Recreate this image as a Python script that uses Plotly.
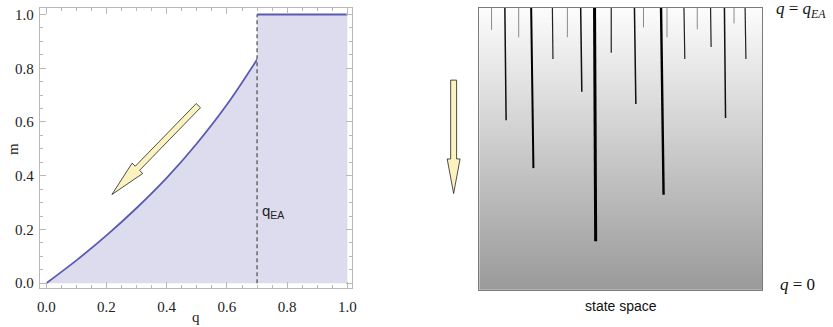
import numpy as np
import plotly.graph_objects as go

W, H = 833, 327

# ---------------- data ----------------
q_curve = [0.0, 0.1, 0.2, 0.3, 0.4, 0.5, 0.6, 0.7]
m_curve = [0.0, 0.085, 0.178, 0.28, 0.392, 0.52, 0.665, 0.833]
q_ea = 0.7
q_plateau = [0.7, 1.0]
m_plateau = [1.0, 1.0]
tick_vals = [0.0, 0.2, 0.4, 0.6, 0.8, 1.0]

# state-space "valleys" (x in box units, y from 0=bottom (q=0) to 1=top (q=q_EA))
valley_top_x = [0.043, 0.090, 0.139, 0.183, 0.258, 0.311, 0.358, 0.407, 0.466, 0.548,
                0.580, 0.642, 0.663, 0.723, 0.770, 0.817, 0.866, 0.900, 0.939]
valley_bottom_x = [0.043, 0.0945, 0.139, 0.191, 0.260, 0.311, 0.362, 0.411, 0.466, 0.553,
                   0.580, 0.651, 0.663, 0.726, 0.770, 0.819, 0.870, 0.900, 0.942]
valley_bottom_y = [0.921, 0.601, 0.895, 0.431, 0.818, 0.895, 0.702, 0.172, 0.840, 0.658,
                   0.930, 0.337, 0.895, 0.818, 0.923, 0.860, 0.609, 0.944, 0.818]

# arrows (start, end) in their panel's data units
arrow_left_tail = [0.505, 0.661]
arrow_left_tip = [0.218, 0.330]
arrow_right_tail = [-0.091, 0.743]
arrow_right_tip = [-0.091, 0.341]

# ---------------- layout geometry ----------------
L_XD = [37 / W, 352 / W]
L_YD = [1 - 291 / H, 1 - 7 / H]
L_XR = [-0.022, 1.014]
L_YR = [-0.0195, 1.0246]
R_XD = [481 / W, 766.7 / W]
R_YD = [1 - 292.3 / H, 1 - 6.7 / H]
R_XR = [0, 1]
R_YR = [0, 1]


def to_px(x, y, xd, yd, xr, yr):
    px = (xd[0] + (x - xr[0]) / (xr[1] - xr[0]) * (xd[1] - xd[0])) * W
    py = (1 - (yd[0] + (y - yr[0]) / (yr[1] - yr[0]) * (yd[1] - yd[0]))) * H
    return px, py


def arrow_path(tail, tip, shaft_hw, head_hw, head_len):
    tx, ty = tail
    hx, hy = tip
    dx, dy = hx - tx, hy - ty
    L = np.hypot(dx, dy)
    ux, uy = dx / L, dy / L
    nx, ny = -uy, ux
    bx, by = hx - ux * head_len, hy - uy * head_len
    pts = [
        (tx + nx * shaft_hw, ty + ny * shaft_hw),
        (bx + nx * shaft_hw, by + ny * shaft_hw),
        (bx + nx * head_hw, by + ny * head_hw),
        (hx, hy),
        (bx - nx * head_hw, by - ny * head_hw),
        (bx - nx * shaft_hw, by - ny * shaft_hw),
        (tx - nx * shaft_hw, ty - ny * shaft_hw),
    ]
    s = "M " + " L ".join(f"{px / W:.5f},{1 - py / H:.5f}" for px, py in pts) + " Z"
    return s


BLUE = "#5a5ab4"
FILL = "#dcdcee"
FRAME = "#b8b8b8"

fig = go.Figure()

# ----- left panel -----
fig.add_trace(go.Scatter(x=q_curve, y=m_curve, mode="lines",
                         line=dict(color=BLUE, width=1.8, shape="spline"),
                         fill="tozeroy", fillcolor=FILL, hoverinfo="skip",
                         xaxis="x", yaxis="y", showlegend=False))
fig.add_trace(go.Scatter(x=q_plateau, y=m_plateau, mode="lines",
                         line=dict(color=BLUE, width=2),
                         fill="tozeroy", fillcolor=FILL, hoverinfo="skip",
                         xaxis="x", yaxis="y", showlegend=False))
fig.add_trace(go.Scatter(x=[q_ea, q_ea], y=[0, 1], mode="lines",
                         line=dict(color="#555555", width=1.3, dash="4px,3px"),
                         hoverinfo="skip", xaxis="x", yaxis="y", showlegend=False))

# ----- right panel -----
N = 120
fig.add_trace(go.Heatmap(z=np.linspace(0, 1, N).reshape(N, 1), x=[-0.01, 1.01],
                         y=np.linspace(-0.01, 1.01, N + 1),
                         colorscale=[[0, "#999999"], [1, "#fdfdfd"]],
                         showscale=False, hoverinfo="skip",
                         xaxis="x2", yaxis="y2"))

for xt, xb, yb in zip(valley_top_x, valley_bottom_x, valley_bottom_y):
    depth = 1 - yb
    if depth < 0.12:
        w, c = 1.0, "#8a8a8a"
    elif depth < 0.2:
        w, c = 1.2, "#222222"
    elif depth < 0.45:
        w, c = 1.5, "#111111"
    elif depth < 0.6:
        w, c = 2.0, "#000000"
    elif depth < 0.75:
        w, c = 2.4, "#000000"
    else:
        w, c = 3.0, "#000000"
    fig.add_trace(go.Scatter(x=[xt, xb], y=[1, yb], mode="lines",
                             line=dict(color=c, width=w), hoverinfo="skip",
                             xaxis="x2", yaxis="y2", showlegend=False))

# ----- arrows -----
lt = to_px(*arrow_left_tail, L_XD, L_YD, L_XR, L_YR)
lh = to_px(*arrow_left_tip, L_XD, L_YD, L_XR, L_YR)
rt = to_px(*arrow_right_tail, R_XD, R_YD, R_XR, R_YR)
rh = to_px(*arrow_right_tip, R_XD, R_YD, R_XR, R_YR)
shapes = [
    dict(type="path", path=arrow_path(lt, lh, 3.0, 7.5, 37), xref="paper", yref="paper",
         fillcolor="#fbf3bf", line=dict(color="#222222", width=0.8), layer="above"),
    dict(type="path", path=arrow_path(rt, rh, 3.0, 6.5, 35), xref="paper", yref="paper",
         fillcolor="#fbf3bf", line=dict(color="#222222", width=0.8), layer="above"),
]

SERIF = "Liberation Serif"
SANS = "Liberation Sans"

ax_common = dict(showgrid=False, zeroline=False, showline=True, mirror="ticks",
                 linecolor=FRAME, linewidth=1, ticks="inside", ticklen=6,
                 tickcolor=FRAME, tickwidth=1, tickvals=tick_vals, tickformat=".1f",
                 tickfont=dict(family=SERIF, size=15, color="#222222"),
                 minor=dict(ticks="inside", ticklen=3, dtick=0.05, tick0=0,
                            tickcolor=FRAME, showgrid=False),
                 fixedrange=True)

fig.update_layout(
    width=W, height=H, autosize=False,
    margin=dict(l=0, r=0, t=0, b=0),
    paper_bgcolor="white", plot_bgcolor="white",
    xaxis=dict(domain=L_XD, range=L_XR, anchor="y", ticklabelstandoff=5, **ax_common),
    yaxis=dict(domain=L_YD, range=L_YR, anchor="x", ticklabelstandoff=2, **ax_common),
    xaxis2=dict(domain=R_XD, range=R_XR, anchor="y2", showgrid=False, zeroline=False,
                showline=True, mirror=True, linecolor="#7a7a7a", linewidth=1,
                showticklabels=False, ticks="", fixedrange=True),
    yaxis2=dict(domain=R_YD, range=R_YR, anchor="x2", showgrid=False, zeroline=False,
                showline=True, mirror=True, linecolor="#7a7a7a", linewidth=1,
                showticklabels=False, ticks="", fixedrange=True),
    shapes=shapes,
    annotations=[
        dict(text="q", x=(L_XD[0] + L_XD[1]) / 2 + 0.5 / W, y=1 - 320 / H, xref="paper", yref="paper",
             showarrow=False, font=dict(family=SERIF, size=15, color="#222222"),
             xanchor="center", yanchor="middle"),
        dict(text="m", x=10 / W, y=1 - 150 / H, xref="paper", yref="paper",
             showarrow=False, textangle=-90, font=dict(family=SERIF, size=15, color="#222222"),
             xanchor="center", yanchor="middle"),
        dict(text="q<sub>EA</sub>", x=0.71, y=0.267, xref="x", yref="y",
             showarrow=False, font=dict(family=SANS, size=15, color="#222222"),
             xanchor="left", yanchor="middle"),
        dict(text="<i>q</i> = <i>q</i><sub><i>EA</i></sub>", x=806 / W, y=1 - 9 / H,
             xref="paper", yref="paper", showarrow=False,
             font=dict(family=SERIF, size=17, color="#111111"),
             xanchor="center", yanchor="middle"),
        dict(text="<i>q</i> = 0", x=802 / W, y=1 - 287 / H,
             xref="paper", yref="paper", showarrow=False,
             font=dict(family=SERIF, size=17, color="#111111"),
             xanchor="center", yanchor="middle"),
        dict(text="state space", x=624 / W, y=1 - 309 / H,
             xref="paper", yref="paper", showarrow=False,
             font=dict(family=SANS, size=14, color="#111111"),
             xanchor="center", yanchor="middle"),
    ],
)

fig.write_html("out.html",
               config={"displayModeBar": False, "staticPlot": True},
               post_script="document.body.style.margin='0';document.body.style.padding='0';"
                           "document.documentElement.style.overflow='hidden';")
